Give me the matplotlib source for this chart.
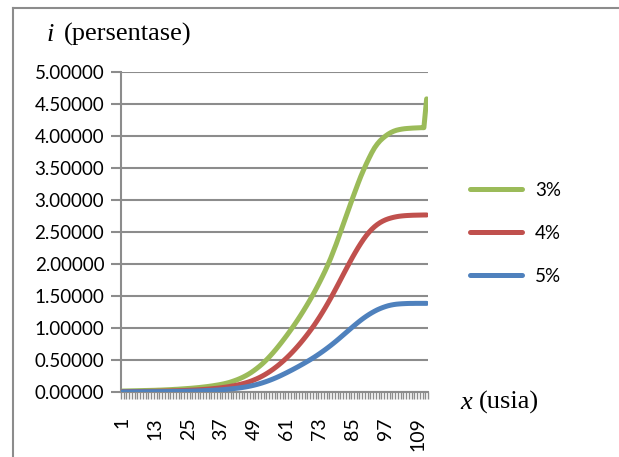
import numpy as np
import matplotlib.pyplot as plt
from matplotlib.lines import Line2D
from matplotlib.ticker import FormatStrFormatter

# usia 1..112
usia = list(range(1, 113))

# nilai i untuk tingkat bunga 3%
i_3 = [0.015, 0.016, 0.017, 0.018, 0.019, 0.020, 0.021, 0.022, 0.023, 0.024,
       0.025, 0.026, 0.027, 0.029, 0.030, 0.032, 0.034, 0.036, 0.038, 0.041,
       0.043, 0.046, 0.049, 0.052, 0.055, 0.058, 0.062, 0.066, 0.070, 0.075,
       0.080, 0.085, 0.091, 0.097, 0.104, 0.111, 0.119, 0.128, 0.138, 0.149,
       0.163, 0.178, 0.194, 0.212, 0.232, 0.254, 0.278, 0.305, 0.335, 0.367,
       0.401, 0.438, 0.478, 0.521, 0.567, 0.615, 0.665, 0.718, 0.772, 0.828,
       0.885, 0.944, 1.004, 1.066, 1.130, 1.196, 1.264, 1.334, 1.406, 1.480,
       1.557, 1.637, 1.720, 1.806, 1.895, 1.990, 2.090, 2.200, 2.310, 2.430,
       2.550, 2.670, 2.790, 2.910, 3.030, 3.145, 3.260, 3.370, 3.470, 3.565,
       3.655, 3.740, 3.815, 3.875, 3.925, 3.965, 4.000, 4.030, 4.055, 4.075,
       4.090, 4.100, 4.108, 4.114, 4.118, 4.121, 4.124, 4.126, 4.128, 4.130,
       4.130, 4.580]

# nilai i untuk tingkat bunga 4%
i_4 = [0.005, 0.005, 0.006, 0.006, 0.007, 0.007, 0.008, 0.008, 0.009, 0.009,
       0.010, 0.011, 0.011, 0.012, 0.013, 0.014, 0.015, 0.016, 0.017, 0.018,
       0.019, 0.021, 0.022, 0.024, 0.026, 0.028, 0.030, 0.032, 0.035, 0.038,
       0.041, 0.044, 0.048, 0.052, 0.056, 0.061, 0.066, 0.072, 0.078, 0.085,
       0.093, 0.101, 0.110, 0.120, 0.131, 0.143, 0.156, 0.171, 0.188, 0.206,
       0.226, 0.248, 0.272, 0.298, 0.326, 0.356, 0.388, 0.422, 0.458, 0.496,
       0.536, 0.578, 0.622, 0.668, 0.716, 0.766, 0.818, 0.872, 0.928, 0.986,
       1.046, 1.110, 1.176, 1.245, 1.316, 1.390, 1.466, 1.544, 1.624, 1.705,
       1.787, 1.869, 1.950, 2.030, 2.108, 2.183, 2.255, 2.323, 2.387, 2.445,
       2.497, 2.543, 2.583, 2.617, 2.646, 2.670, 2.690, 2.706, 2.719, 2.730,
       2.739, 2.746, 2.751, 2.755, 2.758, 2.760, 2.762, 2.763, 2.764, 2.765,
       2.766, 2.766]

# nilai i untuk tingkat bunga 5%
i_5 = [0.002, 0.002, 0.002, 0.002, 0.003, 0.003, 0.003, 0.003, 0.004, 0.004,
       0.004, 0.005, 0.005, 0.005, 0.006, 0.006, 0.007, 0.007, 0.008, 0.009,
       0.009, 0.010, 0.011, 0.012, 0.013, 0.014, 0.015, 0.016, 0.018, 0.019,
       0.021, 0.023, 0.025, 0.027, 0.030, 0.032, 0.035, 0.038, 0.042, 0.046,
       0.050, 0.055, 0.060, 0.066, 0.072, 0.079, 0.087, 0.096, 0.106, 0.117,
       0.129, 0.142, 0.156, 0.171, 0.187, 0.204, 0.222, 0.241, 0.261, 0.282,
       0.303, 0.325, 0.347, 0.370, 0.393, 0.417, 0.441, 0.466, 0.491, 0.517,
       0.544, 0.572, 0.601, 0.631, 0.662, 0.694, 0.727, 0.761, 0.796, 0.832,
       0.869, 0.906, 0.943, 0.980, 1.017, 1.053, 1.088, 1.122, 1.154, 1.184,
       1.212, 1.238, 1.262, 1.284, 1.303, 1.320, 1.335, 1.348, 1.358, 1.366,
       1.372, 1.376, 1.379, 1.381, 1.383, 1.384, 1.384, 1.385, 1.385, 1.385,
       1.385, 1.385]

seri = [('3%', i_3, '#9BBB59'), ('4%', i_4, '#C0504D'), ('5%', i_5, '#4F81BD')]
label_usia = list(range(1, 113, 12))

GRID = '#8C8C8C'
plt.rcParams['font.family'] = ['Lato', 'DejaVu Sans']

fig = plt.figure(figsize=(6.19, 4.57), dpi=100)
ax = fig.add_axes([121 / 619, 1 - 392 / 457, 307 / 619, 320 / 457])

for nama, nilai, warna in seri:
    ax.plot(usia, nilai, color=warna, lw=3.6, solid_capstyle='round',
            solid_joinstyle='round', label=nama, zorder=3)

ax.set_xlim(0.5, 112.5)
ax.set_ylim(0, 5)
ax.set_yticks(np.arange(0, 5.01, 0.5))
ax.yaxis.set_major_formatter(FormatStrFormatter('%.5f'))
ax.grid(axis='y', color=GRID, lw=1.5)
ax.set_axisbelow(True)

ax.set_xticks(label_usia)
ax.set_xticklabels([str(u) for u in label_usia], rotation=90, va='top')
ax.set_xticks(np.arange(0.5, 113, 1), minor=True)
ax.tick_params(axis='x', which='major', length=0, pad=18, labelsize=14)
ax.tick_params(axis='x', which='minor', length=5, width=1, color=GRID)
ax.tick_params(axis='y', length=7, width=1.5, color=GRID, labelsize=13.5, pad=5)

for s in ['top', 'right']:
    ax.spines[s].set_visible(False)
for s in ['left', 'bottom']:
    ax.spines[s].set_color(GRID)
    ax.spines[s].set_linewidth(1.5)

# judul sumbu
serif = 'Liberation Serif'
fig.text(47 / 619, 1 - 41 / 457, 'i', family=serif, style='italic',
         fontsize=19, ha='left', va='baseline')
fig.text(64 / 619, 1 - 41 / 457, '(persentase)', family=serif,
         fontsize=19, ha='left', va='baseline')
fig.text(460 / 619, 1 - 409 / 457, 'x', family=serif, style='italic',
         fontsize=19, ha='left', va='baseline')
fig.text(479 / 619, 1 - 409 / 457, '(usia)', family=serif,
         fontsize=19, ha='left', va='baseline')

fig.legend(loc='upper left', bbox_to_anchor=(462 / 619, 1 - 174 / 457),
           frameon=False, fontsize=13.5, handlelength=2.8, handletextpad=0.7,
           labelspacing=1.4, borderaxespad=0)

# bingkai
fig.add_artist(Line2D([13 / 619, 13 / 619], [0, 1 - 8 / 457], color=GRID, lw=1.5))
fig.add_artist(Line2D([13 / 619, 1], [1 - 8 / 457, 1 - 8 / 457], color=GRID, lw=1.5))

fig.savefig('out.png', dpi=100)
